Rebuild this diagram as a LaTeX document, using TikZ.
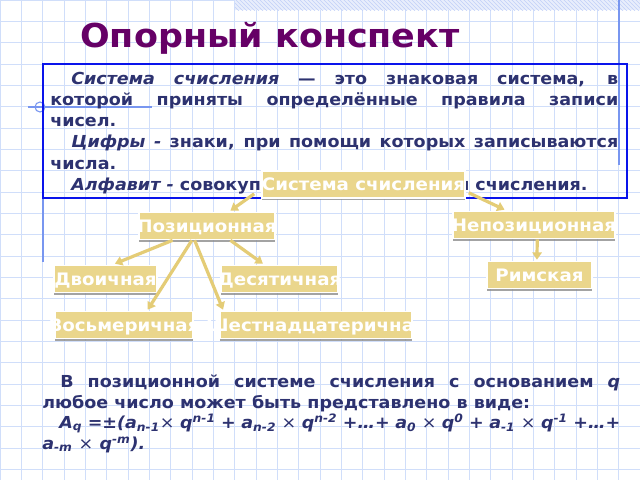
\documentclass[tikz,border=0pt]{standalone}
\usepackage{fontspec}
\setmainfont{DejaVu Sans}[FakeStretch=1.06]
\usetikzlibrary{arrows.meta,calc,patterns,shadows}
\definecolor{gridc}{RGB}{208,222,250}
\definecolor{txt}{RGB}{45,50,112}
\definecolor{titlec}{RGB}{102,0,102}
\definecolor{tanc}{RGB}{234,214,140}
\definecolor{arrc}{RGB}{228,204,118}
\definecolor{decor}{RGB}{120,150,240}
\definecolor{frame}{RGB}{10,20,235}
\tikzset{
  gridline/.style={gridc,line width=0.7pt},
  decorline/.style={decor,line width=0.8pt},
  bodyline/.style={anchor=base west,inner sep=0pt,text=txt,font=\bfseries\fontsize{12.4}{14}\selectfont},
  nbox/.style={draw=white,line width=1.2pt,fill=tanc,inner sep=0pt,minimum height=20.25pt,
    drop shadow={shadow xshift=0.2pt,shadow yshift=-1.6pt,fill=black!45,opacity=0.8}},
  lbl/.style={anchor=base,inner sep=0pt,text=white,font=\bfseries\fontsize{12.9}{14}\selectfont},
  arr/.style={arrc,line width=2.4pt,-{Triangle[length=5.5pt,width=7pt]}}
}
\begin{document}
\begin{tikzpicture}[x=0.75pt,y=-0.75pt]
\fill[white] (0,0) rectangle (640,480);
\useasboundingbox (0,0) rectangle (640,480);
% graph paper
\foreach \i in {0,...,30} {\draw[gridline] ({\i*21.333},0) -- ({\i*21.333},480);}
\foreach \j in {0,...,22} {\draw[gridline] (0,{\j*21.333}) -- (640,{\j*21.333});}
% hatched strip and margin marks
\fill[gridc!50] (235,0) rectangle (640,10);
\fill[pattern=north west lines,pattern color=decor!45] (235,0) rectangle (640,10);
\draw[decorline] (619,0) -- (619,165);
\draw[decorline] (43,198) -- (43,262);
\draw[decorline] (28,107) -- (152,107);
\draw[decorline] (40,107) circle[radius=5];
% title
\node[anchor=base west,inner sep=0pt,text=titlec,font=\bfseries\fontsize{24.7}{28}\selectfont] (title) at (80,47) {Опорный конспект};
% frame with definitions
\draw[frame,line width=2pt] (43,64) rectangle (627,198);
\node[bodyline] (t1) at (71,84) {\makebox[410.25pt][s]{\textit{Система счисления} — это знаковая система, в}};
\node[bodyline] (t2) at (50,105.3) {\makebox[426pt][s]{которой приняты определённые правила записи}};
\node[bodyline] (t3) at (50,126.6) {чисел.};
\node[bodyline] (t4) at (71,147.9) {\makebox[410.25pt][s]{\textit{Цифры -} знаки, при помощи которых записываются}};
\node[bodyline] (t5) at (50,169.2) {числа.};
\node[bodyline] (t6) at (71,190.5) {\textit{Алфавит -} совокупность цифр системы счисления.};
% boxes
\node[nbox,minimum width=152.25pt] (root) at (363.5,184.5) {};
\node[nbox,minimum width=102pt] (pos) at (207,226) {};
\node[nbox,minimum width=121.5pt] (nonpos) at (534,225) {};
\node[nbox,minimum width=78.75pt] (rim) at (539.5,275) {};
\node[nbox,minimum width=77.25pt] (bin) at (105.5,279) {};
\node[nbox,minimum width=87.75pt] (dec) at (279.5,279) {};
\node[nbox,minimum width=103.5pt] (oct) at (124,325) {};
\node[nbox,minimum width=144pt] (hex) at (316,325) {};
% arrows
\draw[arr] ($(root.south west)+(-7,-5)$) -- ($(pos.north west)!0.67!(pos.north east)+(0,-1)$);
\draw[arr] ($(root.south east)+(3,-6)$) -- ($(nonpos.north west)!0.32!(nonpos.north east)+(0,-1)$);
\draw[arr] ($(pos.south west)!0.25!(pos.south east)$) -- ($(bin.north west)!0.59!(bin.north east)+(0,-1)$);
\draw[arr] ($(pos.south west)!0.39!(pos.south east)$) -- ($(oct.north west)!0.67!(oct.north east)+(0,-1)$);
\draw[arr] ($(pos.south west)!0.41!(pos.south east)$) -- ($(hex.north west)!0.02!(hex.north east)+(0,-1)$);
\draw[arr] ($(pos.south west)!0.67!(pos.south east)$) -- ($(dec.north west)!0.36!(dec.north east)+(0,-1)$);
\draw[arr] ($(nonpos.south west)!0.52!(nonpos.south east)$) -- ($(rim.north west)!0.476!(rim.north east)+(0,-1)$);
% labels
\node[lbl] (lroot) at ($(root.center)+(0,6.3)$) {Система счисления};
\node[lbl] (lpos) at ($(pos.center)+(0,6.3)$) {Позиционная};
\node[lbl] (lnonpos) at ($(nonpos.center)+(0,6.3)$) {Непозиционная};
\node[lbl] (lrim) at ($(rim.center)+(0,6.3)$) {Римская};
\node[lbl] (lbin) at ($(bin.center)+(0,6.3)$) {Двоичная};
\node[lbl] (ldec) at ($(dec.center)+(0,6.3)$) {Десятичная};
\node[lbl] (loct) at ($(oct.center)+(0,6.3)$) {Восьмеричная};
\node[lbl] (lhex) at ($(hex.center)+(0,6.3)$) {Шестнадцатеричная};
% bottom text
\node[bodyline] (b1) at (60,387) {\makebox[420pt][s]{В позиционной системе счисления с основанием \textit{q}}};
\node[bodyline] (b2) at (42,408) {любое число может быть представлено в виде:};
\node[bodyline] (b3) at (59,428.5) {\makebox[420.75pt][s]{\itshape A\textsubscript{q} =±(a\textsubscript{n-1}{\upshape\mdseries ×} q\textsuperscript{n-1} + a\textsubscript{n-2} {\upshape\mdseries ×} q\textsuperscript{n-2} +…+ a\textsubscript{0} {\upshape\mdseries ×} q\textsuperscript{0} + a\textsubscript{-1} {\upshape\mdseries ×} q\textsuperscript{-1} +…+}};
\node[bodyline] (b4) at (42,449) {\itshape a\textsubscript{-m} {\upshape\mdseries ×} q\textsuperscript{-m}).};
\end{tikzpicture}
\end{document}
